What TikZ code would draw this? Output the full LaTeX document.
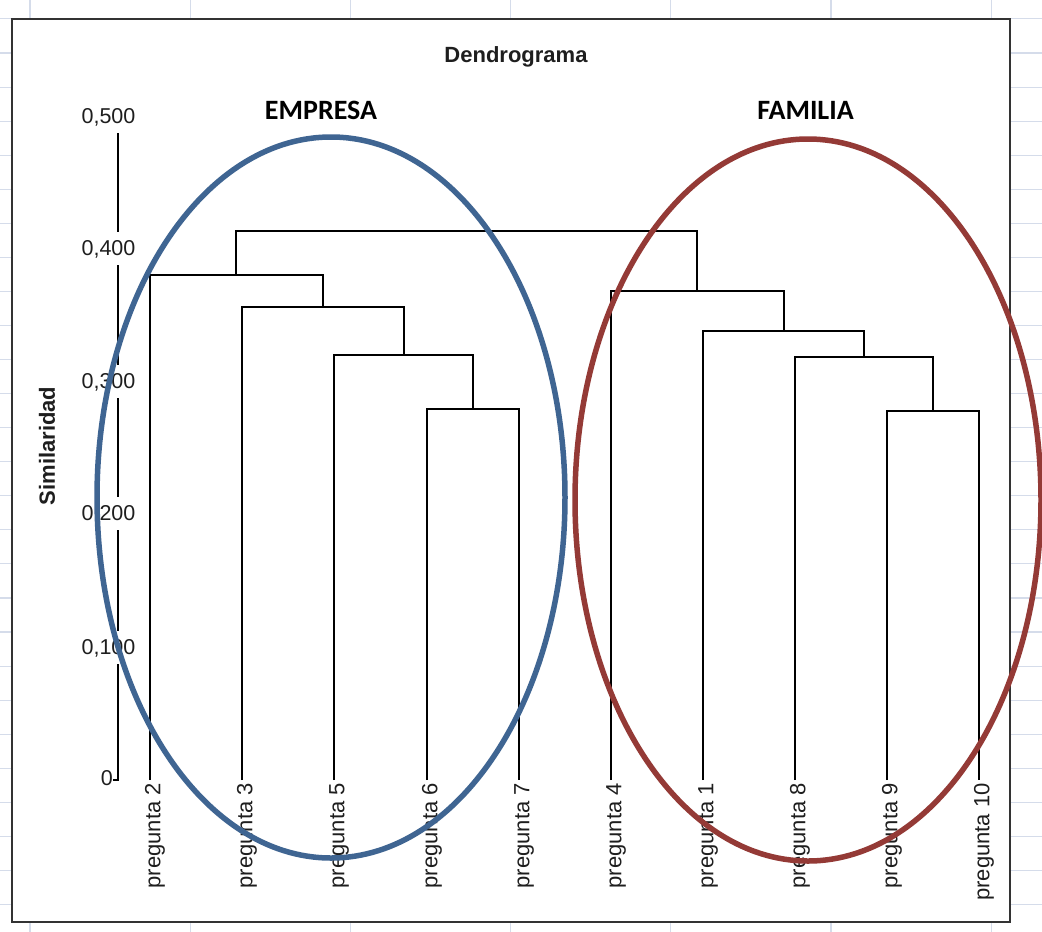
\documentclass[tikz,border=0pt]{standalone}
\usepackage{fontspec}
\setmainfont{Liberation Sans}
\newfontfamily\calibfont{Carlito}
\definecolor{gridc}{HTML}{D5DCEA}
\definecolor{framec}{HTML}{333333}
\definecolor{labc}{HTML}{1E1E1E}
\definecolor{blueE}{HTML}{3F6592}
\definecolor{redF}{HTML}{943A36}
\begin{document}
\begin{tikzpicture}[x=1pt,y=-1pt,
  grid/.style={draw=gridc, line width=1.1pt},
  frame/.style={draw=framec, line width=2.5pt, fill=white, inner sep=0pt, outer sep=0pt},
  link/.style={draw=black, line width=2pt},
  axis/.style={draw=black, line width=2pt},
  ticklab/.style={font=\fontsize{21.5}{22}\selectfont, text=labc, inner sep=0pt, fill=white, minimum height=33pt, minimum width=53pt, text depth=0pt},
  leaflab/.style={font=\fontsize{22}{22}\selectfont, text=labc, rotate=90, anchor=east, inner sep=0pt},
  grp/.style={font=\calibfont\bfseries\fontsize{28}{28}\selectfont, inner sep=0pt},
  ring/.style={line width=5.5pt}]
\useasboundingbox (0,0) rectangle (1042,932);
\fill[white] (0,0) rectangle (1042,932);
% spreadsheet grid behind the chart
\foreach \k in {-1,...,25} \draw[grid] (0,{53+34.06*\k}) -- (1042,{53+34.06*\k});
\foreach \k in {0,...,6} \draw[grid] ({30+160.2*\k},0) -- ({30+160.2*\k},932);
% chart area
\node[frame, minimum width=998pt, minimum height=903pt, anchor=north west] (chart) at (12,19) {};
% title
\node[font=\bfseries\fontsize{22}{22}\selectfont, text=labc] (title) at (516,57) {Dendrograma};
% axis
\coordinate (a0) at (118,780);
\coordinate (atop) at (118,116);
\coordinate (tick0) at (113,780);
\draw[axis] (tick0) -- (a0) -- (atop);
\node[ticklab] (t5) at (108.5,116) {0,500};
\node[ticklab] (t4) at (108.5,248) {0,400};
\node[ticklab] (t3) at (108.5,381) {0,300};
\node[ticklab] (t2) at (108.5,513) {0,200};
\node[ticklab] (t1) at (108.5,647) {0,100};
\node[font=\fontsize{21.5}{22}\selectfont, text=labc, inner sep=0pt, anchor=east] (t0) at (113,778) {0};
\node[font=\bfseries\fontsize{22}{22}\selectfont, text=labc, rotate=90] (ylab) at (47,446) {Similaridad};
% leaves
\foreach \n/\x/\lab in {l2/150/2, l3/242/3, l5/334/5, l6/427/6, l7/519/7, l4/611/4, l1/703/1, l8/795/8, l9/887/9, l10/979/10} {
  \coordinate (\n) at (\x,780);
  \node[leaflab] (p\lab) at (\x+5,783) {pregunta \lab};
}
% merge points
\coordinate (m67) at (473,409);
\coordinate (m5) at (403.5,355);
\coordinate (m3) at (322.75,307);
\coordinate (m2) at (236.4,275);
\coordinate (m910) at (933,411);
\coordinate (m8) at (864,357);
\coordinate (m1) at (783.5,331);
\coordinate (m4) at (697,291);
\coordinate (mtop) at (466.7,231);
\draw[link] (l6) |- (m67) -| (l7);
\draw[link] (l5) |- (m5) -| (m67);
\draw[link] (l3) |- (m3) -| (m5);
\draw[link] (l2) |- (m2) -| (m3);
\draw[link] (l9) |- (m910) -| (l10);
\draw[link] (l8) |- (m8) -| (m910);
\draw[link] (l1) |- (m1) -| (m8);
\draw[link] (l4) |- (m4) -| (m1);
\draw[link] (m2) |- (mtop) -| (m4);
% group labels and rings
\node[grp] (empresa) at (321,110.5) {EMPRESA};
\node[grp] (familia) at (805.5,110.5) {FAMILIA};
\draw[ring, draw=blueE] (331,497.5) ellipse [x radius=234, y radius=360.5];
\draw[ring, draw=redF] (808,500) ellipse [x radius=233, y radius=361];
\end{tikzpicture}
\end{document}
